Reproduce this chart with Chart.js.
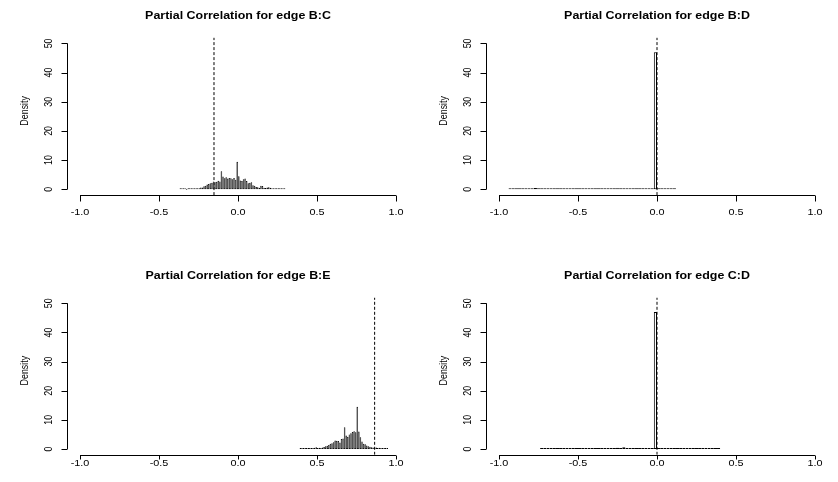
<!DOCTYPE html>
<html>
<head>
<meta charset="utf-8">
<script src="https://cdn.jsdelivr.net/npm/chart.js@4.4.1/dist/chart.umd.min.js"></script>
<style>
  html, body { margin: 0; padding: 0; background: #fff; }
  body { width: 838px; height: 482px; position: relative; overflow: hidden; }
  canvas { position: absolute; }
</style>
</head>
<body>
<canvas id="histBC" width="419" height="241" style="left:0px;top:0px"></canvas>
<canvas id="histBD" width="419" height="241" style="left:419px;top:0px"></canvas>
<canvas id="histBE" width="419" height="241" style="left:0px;top:241px"></canvas>
<canvas id="histCD" width="419" height="241" style="left:419px;top:241px"></canvas>
<script>
// Axis ticks (same on every panel)
const xTicks = [-1, -0.5, 0, 0.5, 1];
const xTickLabels = ["-1.0", "-0.5", "0.0", "0.5", "1.0"];
const yTicks = [0, 10, 20, 30, 40, 50];
const yTickLabels = ["0", "10", "20", "30", "40", "50"];

// Edge B:C  (bins of 0.01 starting at -0.37)
const bcStart = -0.37;
const bcBin = 0.01;
const bcDensity = [
  0.1, 0.1, 0.1, 0.1, 0.0, 0.1, 0.2, 0.1, 0.1, 0.2,
  0.1, 0.3, 0.3, 0.6, 0.6, 1.0, 1.2, 1.6, 1.8, 2.1,
  2.2, 2.7, 2.4, 2.6, 2.9, 2.7, 6.2, 4.4, 3.8, 4.1,
  3.7, 3.9, 3.8, 3.4, 3.9, 3.3, 9.4, 4.5, 3.0, 2.8,
  3.4, 3.7, 2.8, 2.1, 2.2, 2.4, 1.4, 1.2, 0.8, 0.7,
  0.5, 1.2, 1.1, 0.5, 0.4, 0.6, 0.7, 0.5, 0.3, 0.2,
  0.2, 0.1, 0.1, 0.1, 0.2, 0.1, 0.2,
];
const bcObserved = -0.152;

// Edge B:D  (bins of 0.02 starting at -0.94)
const bdStart = -0.94;
const bdBin = 0.02;
const bdDensity = [
  0.1, 0.1, 0.1, 0.1, 0.2, 0.3, 0.2, 0.1, 0.4, 0.1,
  0.1, 0.05, 0.1, 0.05, 0.05, 0.1, 0.05, 0.05, 0.1, 0.05,
  0.05, 0.05, 0.1, 0.05, 0.05, 0.05, 0.05, 0.1, 0.05, 0.05,
  0.05, 0.05, 0.05, 0.1, 0.05, 0.05, 0.05, 0.05, 0.05, 0.05,
  0.05, 0.05, 0.05, 0.05, 0.05, 0.05, 47.0, 0.1, 0.05, 0.05,
  0.05, 0.05, 0.05,
];
const bdObserved = 0.0;

// Edge B:E  (bins of 0.01 starting at 0.39)
const beStart = 0.39;
const beBin = 0.01;
const beDensity = [
  0.2, 0.2, 0.1, 0.2, 0.2, 0.3, 0.2, 0.3, 0.2, 0.4,
  0.6, 0.3, 0.4, 0.3, 0.5, 0.7, 0.9, 1.1, 1.4, 1.8,
  2.0, 2.3, 2.9, 2.8, 2.7, 2.2, 3.4, 3.6, 7.5, 4.6,
  4.2, 5.0, 5.4, 5.8, 6.1, 5.7, 14.5, 6.0, 4.0, 2.6,
  1.8, 1.6, 1.2, 0.9, 0.8, 0.6, 0.5, 0.4, 0.5, 0.3,
  0.4, 0.3, 0.2, 0.3, 0.2, 0.3,
];
const beObserved = 0.865;

// Edge C:D  (bins of 0.02 starting at -0.74)
const cdStart = -0.74;
const cdBin = 0.02;
const cdDensity = [
  0.1, 0.2, 0.1, 0.2, 0.1, 0.1, 0.2, 0.1, 0.1, 0.1,
  0.1, 0.2, 0.1, 0.1, 0.1, 0.2, 0.1, 0.1, 0.1, 0.1,
  0.1, 0.1, 0.1, 0.3, 0.4, 0.3, 0.6, 0.3, 0.2, 0.1,
  0.2, 0.1, 0.1, 0.1, 0.1, 0.1, 47.0, 0.05, 0.05, 0.05,
  0.05, 0.05, 0.05, 0.05, 0.05, 0.05, 0.1, 0.05, 0.05, 0.05,
  0.05, 0.05, 0.05, 0.05, 0.05, 0.05, 0.05,
];
const cdObserved = 0.0;

// The reference text is a little stretched sideways
const SX = 1.22;
const FONT = '"Liberation Sans", Arial, Helvetica, sans-serif';

function drawText(ctx, str, x, y, font, vertical) {
  ctx.save();
  ctx.translate(x, y);
  ctx.scale(SX, 1);
  if (vertical) ctx.rotate(-Math.PI / 2);
  ctx.font = font;
  ctx.fillStyle = "#000";
  ctx.textAlign = "center";
  ctx.textBaseline = "middle";
  ctx.fillText(str, 0, 0);
  ctx.restore();
}

// R style axes, labels and title
const rAxes = {
  id: "rAxes",
  afterDraw(chart, args, opts) {
    const ctx = chart.ctx;
    const xs = chart.scales.x;
    const ys = chart.scales.y;
    const area = chart.chartArea;
    ctx.save();
    ctx.strokeStyle = "#000";
    ctx.lineWidth = 1;

    // x axis
    const ax = Math.round(area.bottom) + 0.5;
    ctx.beginPath();
    ctx.moveTo(xs.getPixelForValue(xTicks[0]), ax);
    ctx.lineTo(xs.getPixelForValue(xTicks[xTicks.length - 1]), ax);
    xTicks.forEach((v) => {
      const px = Math.round(xs.getPixelForValue(v)) + 0.5;
      ctx.moveTo(px, ax);
      ctx.lineTo(px, ax + opts.xTickLen);
    });
    ctx.stroke();

    // y axis
    const ay = Math.round(area.left) + 0.5;
    ctx.beginPath();
    ctx.moveTo(ay, ys.getPixelForValue(yTicks[0]));
    ctx.lineTo(ay, ys.getPixelForValue(yTicks[yTicks.length - 1]));
    yTicks.forEach((v) => {
      const py = Math.round(ys.getPixelForValue(v)) + 0.5;
      ctx.moveTo(ay, py);
      ctx.lineTo(ay - 6, py);
    });
    ctx.stroke();
    ctx.restore();

    const tickFont = "8.9px " + FONT;
    xTicks.forEach((v, i) => {
      drawText(ctx, xTickLabels[i], xs.getPixelForValue(v), area.bottom + opts.xLabelGap, tickFont, false);
    });
    yTicks.forEach((v, i) => {
      drawText(ctx, yTickLabels[i], area.left - 18.5, ys.getPixelForValue(v), tickFont, true);
    });
    drawText(ctx, "Density", 25, (area.top + area.bottom) / 2 - 5.5, tickFont, true);
    drawText(ctx, opts.title, (area.left + area.right) / 2, area.top - 21.5, "bold 10.2px " + FONT, false);
  },
};

function makeHist(canvasId, title, start, bin, density, observed, row) {
  const bars = density.map((d, i) => ({ x: start + (i + 0.5) * bin, y: d }));
  const topRow = row === 0;
  new Chart(document.getElementById(canvasId).getContext("2d"), {
    type: "bar",
    data: {
      datasets: [
        {
          type: "bar",
          data: bars,
          backgroundColor: "#ffffff",
          borderColor: "#000000",
          // narrow bins would turn solid black with a full 1px outline
          borderWidth: bin < 0.015 ? 0.7 : 1,
          borderSkipped: false,
          inflateAmount: 0,
          minBarLength: 1,
          barPercentage: 1,
          categoryPercentage: 1,
        },
        {
          // observed value, dashed vertical line
          type: "line",
          data: [
            { x: observed, y: -2 },
            { x: observed, y: 52 },
          ],
          borderColor: "#000000",
          borderWidth: 1,
          borderDash: [3, 2],
          pointRadius: 0,
          fill: false,
        },
      ],
    },
    options: {
      responsive: false,
      animation: false,
      events: [],
      layout: {
        padding: topRow
          ? { left: 67.4, right: 10.4, top: 37.6, bottom: 45.9 }
          : { left: 67.4, right: 10.4, top: 56.5, bottom: 27.2 },
      },
      scales: {
        x: { type: "linear", min: -1.08, max: 1.08, offset: false, display: false },
        y: { type: "linear", min: -2, max: 52, display: false },
      },
      plugins: {
        legend: { display: false },
        tooltip: { enabled: false },
        rAxes: {
          title: title,
          xTickLen: topRow ? 6 : 4,
          xLabelGap: topRow ? 17.2 : 8.5,
        },
      },
    },
    plugins: [rAxes],
  });
}

makeHist("histBC", "Partial Correlation for edge B:C", bcStart, bcBin, bcDensity, bcObserved, 0);
makeHist("histBD", "Partial Correlation for edge B:D", bdStart, bdBin, bdDensity, bdObserved, 0);
makeHist("histBE", "Partial Correlation for edge B:E", beStart, beBin, beDensity, beObserved, 1);
makeHist("histCD", "Partial Correlation for edge C:D", cdStart, cdBin, cdDensity, cdObserved, 1);
</script>
</body>
</html>
